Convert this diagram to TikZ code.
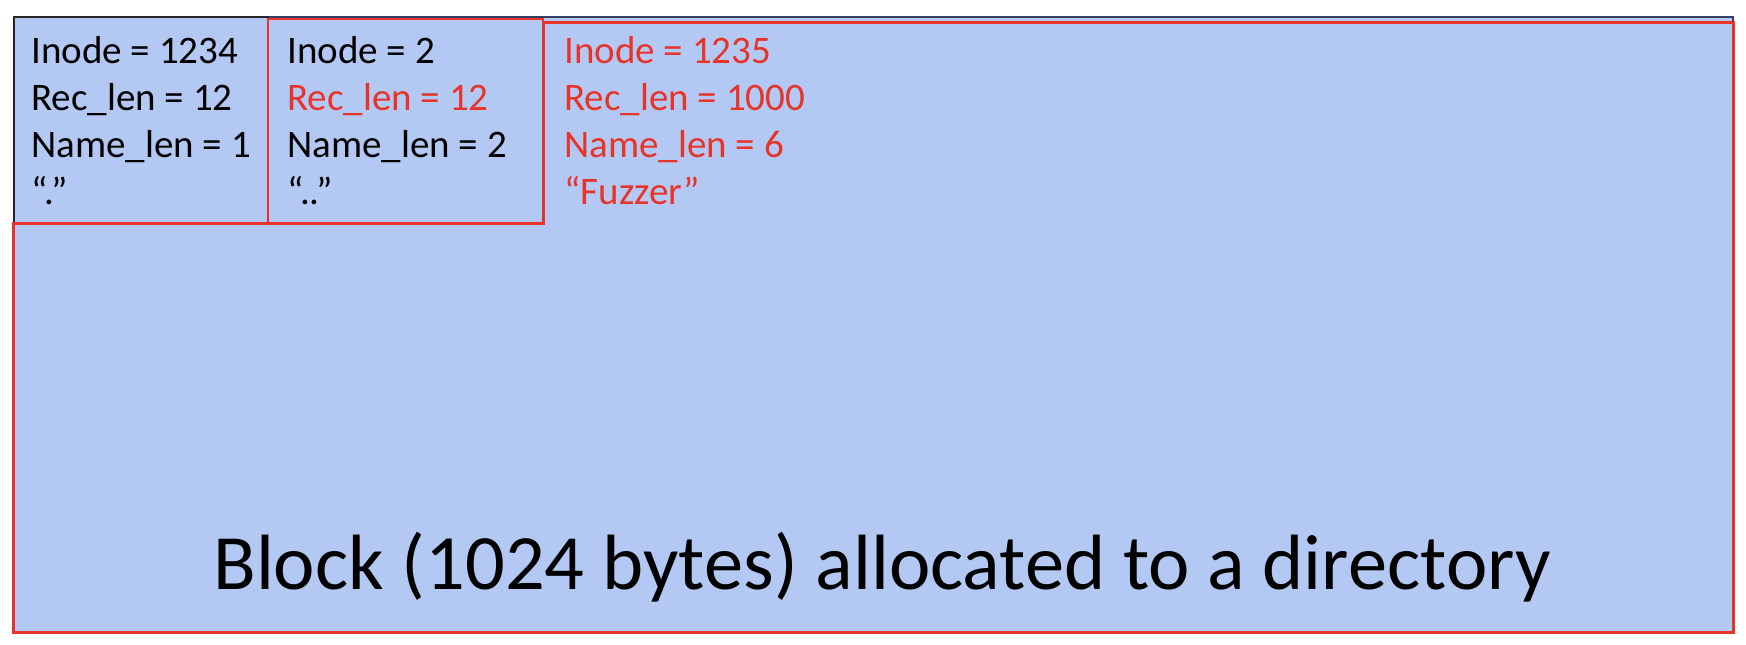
\documentclass[tikz,border=0pt]{standalone}
\usepackage{fontspec}
\setmainfont{Carlito}

\definecolor{blockblue}{RGB}{179,201,243}
\definecolor{recred}{RGB}{232,52,40}
\definecolor{framenavy}{RGB}{52,62,100}

\tikzset{
  field/.style={anchor=base west, inner sep=0pt, font=\fontsize{19.5}{23}\selectfont},
  redfield/.style={field, text=recred}
}

\begin{document}
\begin{tikzpicture}[x=0.5pt,y=-0.5pt]
        \useasboundingbox (0,0) rectangle (1746,644);

        % The block
        \fill[blockblue] (14,17) rectangle (1733,632);
        \draw[framenavy, line width=1pt] (14,17) rectangle (1733,632);

        % First record "."
        \draw[black!85, line width=1pt] (14,17) rectangle (268,223);
        % Second record ".."
        \draw[recred, line width=1.3pt] (268,19) rectangle (543,223);
        % Last record, stretched to the end of the block
        \draw[recred, line width=1.5pt] (543,22) -- (1733,22) -- (1733,632)
            -- (13,632) -- (13,223) -- (543,223) -- cycle;

        % Fields of the first record
        \node[field] (dot-inode) at (31,63) {Inode = 1234};
        \node[field] (dot-rec)   at (31,110) {Rec\_len = 12};
        \node[field] (dot-nlen)  at (31,157) {Name\_len = 1};
        \node[field] (dot-name)  at (31,204) {“.”};

        % Fields of the second record
        \node[field]    (dotdot-inode) at (287,63) {Inode = 2};
        \node[redfield] (dotdot-rec)   at (287,110) {Rec\_len = 12};
        \node[field]    (dotdot-nlen)  at (287,157) {Name\_len = 2};
        \node[field]    (dotdot-name)  at (287,204) {“..”};

        % Fields of the new record
        \node[redfield] (fuzz-inode) at (564,63) {Inode = 1235};
        \node[redfield] (fuzz-rec)   at (564,110) {Rec\_len = 1000};
        \node[redfield] (fuzz-nlen)  at (564,157) {Name\_len = 6};
        \node[redfield] (fuzz-name)  at (564,204) {“Fuzzer”};

        % Caption
        \node[anchor=base, inner sep=0pt, font=\fontsize{39.2}{44}\selectfont] (caption) at (882,589) {Block (1024 bytes) allocated to a directory};

    \end{tikzpicture}
\end{document}
